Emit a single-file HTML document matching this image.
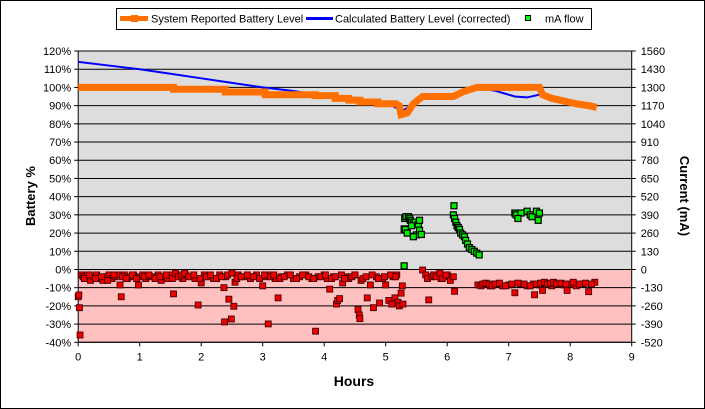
<!DOCTYPE html>
<html><head><meta charset="utf-8"><style>
body{margin:0;background:#fff;font-family:"Liberation Sans",Arial,sans-serif}
svg{display:block}
</style></head><body>
<svg id="chart" width="705" height="409" viewBox="0 0 705 409" xmlns="http://www.w3.org/2000/svg" font-family="Liberation Sans, Arial, sans-serif">
<rect x="0.5" y="0.5" width="704" height="408" fill="#fff" stroke="#000"/>
<g id="plot"></g>
<g id="legend">
<rect x="116.5" y="8.5" width="475" height="21" fill="#fff" stroke="#000"/>
<g>
<line x1="120" y1="18.5" x2="148" y2="18.5" stroke="#ff7000" stroke-width="5"/>
<rect x="131" y="15" width="7" height="7" fill="#ff7000"/>
<text x="151" y="22.5" font-size="11">System Reported Battery Level</text></g>
<g>
<line x1="306" y1="18.5" x2="333" y2="18.5" stroke="#0000ff" stroke-width="3"/>
<text x="335" y="22.5" font-size="11">Calculated Battery Level (corrected)</text></g>
<g>
<rect x="525.5" y="15.5" width="5" height="5" fill="#00ff00" stroke="#000"/>
<text x="545" y="22.5" font-size="11">mA flow</text></g>
</g>
<text x="35" y="196" font-size="13" font-weight="bold" text-anchor="middle" transform="rotate(-90 35 196)">Battery %</text>
<text x="680" y="196" font-size="13" font-weight="bold" text-anchor="middle" transform="rotate(90 680 196)">Current (mA)</text>
<text x="354" y="386" font-size="14" font-weight="bold" text-anchor="middle">Hours</text>
</svg>
<script>
const xTicks=[0,1,2,3,4,5,6,7,8,9];
const pctTicks=[120,110,100,90,80,70,60,50,40,30,20,10,0,-10,-20,-30,-40];
const maTicks=[1560,1430,1300,1170,1040,910,780,650,520,390,260,130,0,-130,-260,-390,-520];
const systemHours=[0,1.55,1.55,2.39,2.39,3.04,3.04,3.85,3.85,4.18,4.18,4.4,4.4,4.58,4.58,4.87,4.87,5.17,5.22,5.25,5.35,5.45,5.6,6.1,6.25,6.48,7.5,7.55,7.7,7.9,8.1,8.3,8.43];
const systemPct=[100,100,99,99,97.5,97.5,96,96,95.5,95.5,94,94,93,93,92,92,91,91,90,85,86,91,95,95,97.5,100,100,96,94,92.5,91,90,89];
const calcHours=[0,0.5,1,1.5,2,2.5,3,3.5,3.9,5.1,5.27,5.4,5.6,6.1,6.48,6.8,7.1,7.3,7.5,7.6];
const calcPct=[114,112,110,107.5,105,102.5,100,98,96,90,87,90,96,96,100,98,95,94.5,96,95];
const redHours=[0,0.01,0.02,0.03,0.05,0.08,0.12,0.15,0.2,0.25,0.3,0.35,0.4,0.45,0.5,0.55,0.6,0.65,0.68,0.7,0.75,0.8,0.85,0.9,0.98,1.0,1.05,1.1,1.2,1.3,1.35,1.4,1.45,1.5,1.55,1.6,1.65,1.7,1.75,1.85,1.9,1.95,2.0,2.05,2.1,2.2,2.3,2.37,2.38,2.4,2.45,2.49,2.53,2.55,2.6,2.7,2.8,2.9,3.0,3.05,3.09,3.1,3.2,3.25,3.3,3.4,3.5,3.6,3.7,3.8,3.86,3.9,4.0,4.05,4.09,4.15,4.2,4.22,4.25,4.3,4.35,4.4,4.5,4.55,4.57,4.58,4.6,4.7,4.75,4.8,4.85,4.9,4.95,5.0,5.05,5.1,5.12,5.15,5.18,5.2,5.22,5.25,5.27,5.28,5.6,5.65,5.68,5.7,5.75,5.85,5.9,5.95,6.0,6.05,6.1,6.12,6.5,6.6,6.7,6.8,6.9,7.0,7.1,7.2,7.3,7.4,7.42,7.5,7.55,7.6,7.7,7.8,7.9,7.95,8.0,8.1,8.2,8.3,8.4,
0.1,0.18,0.28,0.38,0.48,0.58,0.72,0.78,0.88,0.95,1.08,1.15,1.25,1.33,1.43,1.53,1.58,1.63,1.68,1.73,1.8,1.88,1.98,2.08,2.15,2.25,2.33,2.43,2.5,2.58,2.65,2.75,2.85,2.95,3.03,3.13,3.18,3.28,3.35,3.45,3.55,3.65,3.75,3.83,3.95,4.02,4.12,4.18,4.28,4.33,4.45,4.5,4.63,4.68,4.78,4.88,4.98,5.08,5.16,5.78,5.82,5.88,5.92,5.98,6.55,6.58,6.63,6.68,6.73,6.78,6.85,6.95,7.05,7.15,7.25,7.35,7.45,7.52,7.58,7.63,7.68,7.73,7.78,7.85,7.93,8.05,8.15,8.25,8.35];
const redPct=[-15,-14,-21,-36,-3,-4,-5,-3,-6,-4,-3,-5,-6,-4,-3,-5,-4,-3,-8.5,-15,-3,-5,-4,-3,-8.5,-4,-3,-5,-4,-3,-6,-4,-5,-3,-13.4,-4,-3,-5,-3,-4,-5,-19.5,-7.4,-3,-4,-5,-3,-10,-28.8,-4,-16.3,-27.2,-20.2,-7,-3,-4,-5,-3,-9,-4,-29.9,-3,-5,-15.6,-4,-3,-5,-4,-3,-5,-33.9,-4,-3,-5,-10.8,-4,-19,-17,-16,-7.4,-4,-5,-3,-22,-25,-27,-6,-15.6,-8.5,-21,-4,-18.4,-5,-8.5,-17,-19,-4,-15.6,-3,-18,-20,-13,-9,-19,-0.3,-3,-5,-16.7,-4,-3,-5,-4,-3,-6,-4,-12,-8.5,-8,-9,-8,-9,-8.5,-12.8,-8,-9,-8,-13.9,-8.5,-11.5,-8,-9,-8,-8.5,-11.5,-8,-9,-8,-12.2,-7,
-5,-3,-5,-4,-6,-3,-4,-5,-3,-5,-4,-3,-5,-4,-3,-5,-2,-4,-3,-2,-4,-3,-5,-4,-3,-5,-4,-3,-2,-5,-4,-3,-4,-5,-3,-4,-3,-5,-4,-3,-5,-3,-4,-5,-4,-3,-5,-4,-3,-5,-4,-3,-5,-4,-3,-5,-4,-3,-4,-3,-4,-2,-5,-3,-9,-8,-7.5,-8,-9,-8,-7.5,-9,-8,-7.5,-8,-9,-8,-7.5,-7,-8,-7.5,-7,-8,-7.5,-8,-7,-8,-7.5,-8];
const greenHours=[5.3,5.3,5.31,5.32,5.33,5.35,5.37,5.39,5.4,5.42,5.45,5.48,5.5,5.53,5.55,5.58,5.45,5.42,5.55,6.1,6.11,6.12,6.14,6.16,6.18,6.2,6.22,6.25,6.28,6.3,6.33,6.36,6.4,6.44,6.48,6.52,7.1,7.12,7.2,7.3,7.35,7.38,7.45,7.5,7.48,7.15];
const greenMA=[26,290,364,286,377,260,377,366,351,338,325,338,247,321,280,250,234,312,351,390,455,364,338,312,299,286,260,247,234,208,182,156,143,130,117,104,403,390,403,416,390,377,416,403,351,364];
const X0=78.2,X1=631.7,Y0=51,Y1=342.3;
const sx=h=>X0+(h-0)/(9-0)*(X1-X0);
const sy=p=>Y0+(120-p)/(160)*(Y1-Y0);
const sm=m=>sy(m/13);
const NS='http://www.w3.org/2000/svg';
const plot=document.getElementById('plot');
function mk(tag,attrs,parent){const e=document.createElementNS(NS,tag);for(const k in attrs)e.setAttribute(k,attrs[k]);(parent||plot).appendChild(e);return e;}
let r=mk('rect',{x:X0,y:Y0,width:X1-X0,height:sy(0)-Y0,fill:'#dddddd'});


r=mk('rect',{x:X0,y:sy(0),width:X1-X0,height:Y1-sy(0),fill:'#ffc0c0'});


pctTicks.forEach((p,i)=>{
 const y=sy(p);
 const g=mk('line',{x1:X0,x2:X1,y1:y,y2:y,stroke:'#000','stroke-width':1});
 
 
 mk('line',{x1:X0-4,x2:X0,y1:y,y2:y,stroke:'#000'});
 mk('line',{x1:X1,x2:X1+4,y1:y,y2:y,stroke:'#000'});
 const t=mk('text',{x:X0-7,y:y+4,'font-size':11,'text-anchor':'end'});t.textContent=p+'%';
 
 
 const t2=mk('text',{x:X1+9,y:y+4,'font-size':11});t2.textContent=maTicks[i];
 
 
});
xTicks.forEach(h=>{
 const x=sx(h);
 mk('line',{x1:x,x2:x,y1:Y1,y2:Y1+4,stroke:'#000'});
 const t=mk('text',{x:x,y:Y1+18,'font-size':11,'text-anchor':'middle'});t.textContent=h;
 
 
});
const bd=mk('rect',{x:X0,y:Y0,width:X1-X0,height:Y1-Y0,fill:'none',stroke:'#000'});


redHours.forEach((h,i)=>{
 const m=mk('rect',{x:sx(h)-3,y:sy(redPct[i])-3,width:6,height:6,fill:'#ee0000',stroke:'#300','stroke-width':0.8});
 
 
});
const cl=mk('polyline',{points:calcHours.map((h,i)=>sx(h)+','+sy(calcPct[i])).join(' '),fill:'none',stroke:'#0000ff','stroke-width':2});


const sl=mk('polyline',{points:systemHours.map((h,i)=>sx(h)+','+sy(systemPct[i])).join(' '),fill:'none',stroke:'#ff7000','stroke-width':7,'stroke-linejoin':'miter'});


greenHours.forEach((h,i)=>{
 const m=mk('rect',{x:sx(h)-3,y:sm(greenMA[i])-3,width:6,height:6,fill:'#00ee00',stroke:'#000','stroke-width':1.2});
 
 
});
</script>
</body></html>
